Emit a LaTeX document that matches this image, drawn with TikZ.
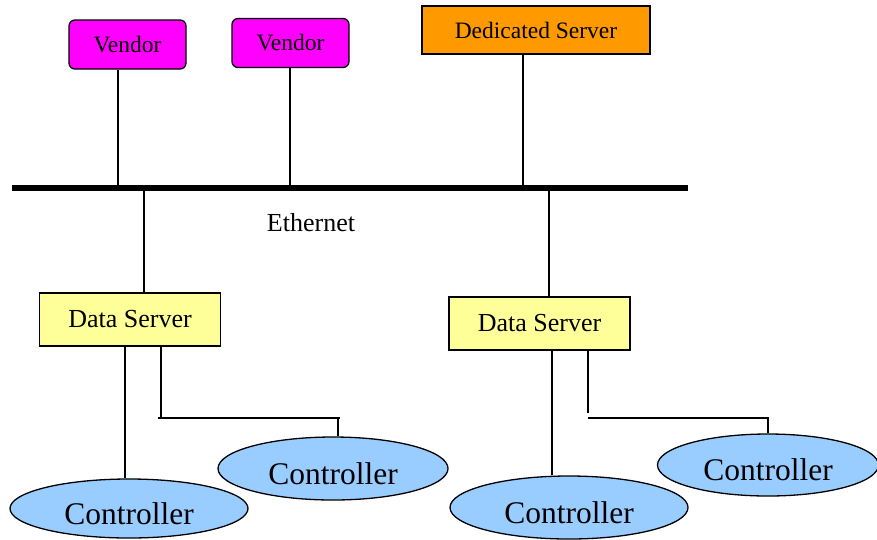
\documentclass[tikz,border=0pt]{standalone}
\usepackage{fontspec}
\setmainfont{Liberation Serif}
\usetikzlibrary{shapes.geometric}
\definecolor{vendorpink}{HTML}{FF00FF}
\definecolor{serverorange}{HTML}{FF9900}
\definecolor{datayellow}{HTML}{FFFF99}
\definecolor{ctrlblue}{HTML}{99CCFF}
\tikzstyle{vendor} = [draw, rounded corners=6pt, fill=vendorpink, minimum width=117pt, minimum height=49pt, inner sep=0pt, line width=1.3pt, font=\fontsize{23.5}{28}\selectfont]
\tikzstyle{dedicated} = [draw, fill=serverorange, minimum width=228pt, minimum height=48pt, inner sep=0pt, line width=1.3pt, font=\fontsize{23.5}{28}\selectfont]
\tikzstyle{dataserver} = [draw, fill=datayellow, minimum width=181pt, minimum height=53pt, inner sep=0pt, line width=1.3pt, font=\fontsize{26}{30}\selectfont]
\tikzstyle{controller} = [draw, ellipse, fill=ctrlblue, inner sep=0pt, line width=1.3pt, text height=31pt, text depth=0pt, font=\fontsize{31.5}{36}\selectfont]
\tikzstyle{wire} = [line width=1.2pt]

\begin{document}
\begin{tikzpicture}[x=1pt,y=-1pt]
    \useasboundingbox (0,0) rectangle (877,539);
    % top row
    \draw (127.5,44.5) node[vendor] (v1) {Vendor};
    \draw (290.5,43) node[vendor] (v2) {Vendor};
    \draw (536,30) node[dedicated] (ded) {Dedicated Server};
    % ethernet bus and its taps
    \draw[line width=5.5pt] (12,188) -- (688,188);
    \coordinate (e1) at (118,188);
    \coordinate (e2) at (290,188);
    \coordinate (e3) at (523,188);
    \coordinate (e4) at (144,188);
    \coordinate (e5) at (549,188);
    \node[font=\fontsize{26}{30}\selectfont] (eth) at (311,223) {Ethernet};
    % data servers
    \draw (130,319.5) node[dataserver] (ds1) {Data Server};
    \draw (539.5,323.5) node[dataserver] (ds2) {Data Server};
    % controllers
    \draw (129,508.5) node[controller, minimum width=238pt, minimum height=59pt] (c1) {Controller};
    \draw (333,468.5) node[controller, minimum width=230pt, minimum height=63pt] (c2) {Controller};
    \draw (569,507.5) node[controller, minimum width=238pt, minimum height=63pt] (c3) {Controller};
    \draw (768,465) node[controller, minimum width=221pt, minimum height=62pt] (c4) {Controller};
    % links to the bus
    \draw[wire] (v1.south -| e1) -- (e1);
    \draw[wire] (v2.south -| e2) -- (e2);
    \draw[wire] (ded.south -| e3) -- (e3);
    \draw[wire] (e4) -- (e4 |- ds1.north);
    \draw[wire] (e5) -- (e5 |- ds2.north);
    % links to the controllers
    \coordinate (d1) at (125,418);
    \coordinate (k1) at (161,418);
    \coordinate (k2) at (338,418);
    \coordinate (d2) at (552,418);
    \coordinate (k3) at (588,418);
    \coordinate (k4) at (768,418);
    \draw[wire] (ds1.south -| d1) -- (d1 |- c1.north);
    \draw[wire] (ds1.south -| k1) -- (k1);
    \draw[wire] ([xshift=-3pt]k1) -- ([xshift=1.5pt]k2);
    \draw[wire] (k2) -- (k2 |- c2.north);
    \draw[wire] (ds2.south -| d2) -- (d2 |- c3.north);
    \draw[wire] (ds2.south -| k3) -- ([yshift=5pt]k3);
    \draw[wire] (k3) -- (k4) -- (k4 |- c4.north);
\end{tikzpicture}
\end{document}
